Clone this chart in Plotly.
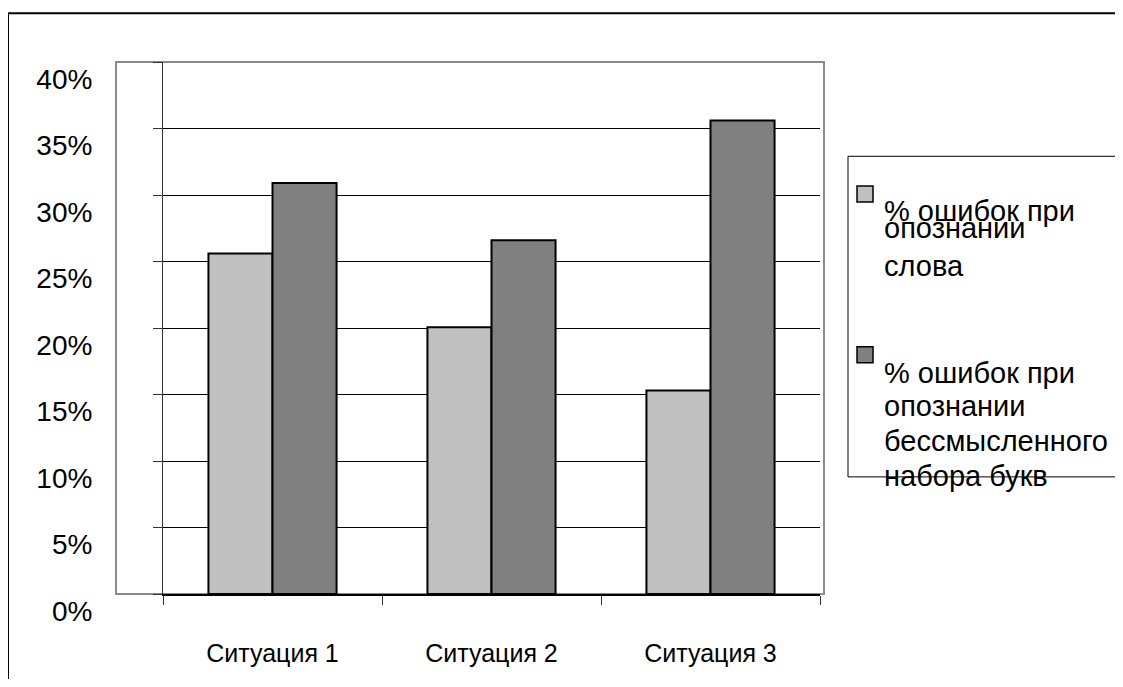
import plotly.graph_objects as go

# ---- data ----
categories = ["Ситуация 1", "Ситуация 2", "Ситуация 3"]
series_names = ["% ошибок при опознании слова",
                "% ошибок при опознании бессмысленного набора букв"]
legend_lines = [["% ошибок при", "опознании", "слова"],
                ["% ошибок при", "опознании", "бессмысленного", "набора букв"]]
word_errors = [0.256, 0.2005, 0.153]
nonsense_errors = [0.309, 0.266, 0.356]
series_colors = ["#C0C0C0", "#808080"]

OFF = 8                      # page body margin
W, H = 1107, 671
# plot area in reference (screen) pixels
RL, RR, RT, RB = 163, 820, 62, 598
L, R, T, B = RL - OFF, RR - OFF, RT - OFF, RB - OFF


def px(x):
    return (x - RL) / (RR - RL)


def py(y):
    return (RB - y) / (RB - RT)


FONT = "Liberation Sans, Arial, sans-serif"

fig = go.Figure()
for name, vals, col in zip(series_names, [word_errors, nonsense_errors], series_colors):
    fig.add_trace(go.Bar(x=categories, y=vals, name=name,
                         marker=dict(color=col, line=dict(color="black", width=2)),
                         showlegend=False))

shapes = []
# outer chart border
shapes.append(dict(type="rect", xref="paper", yref="paper",
                   x0=px(8), x1=px(1160), y0=py(13), y1=py(720),
                   line=dict(color="black", width=2), layer="below"))
# plot-area gray border
shapes.append(dict(type="rect", xref="paper", yref="paper",
                   x0=px(116), x1=px(824), y0=py(598), y1=py(62),
                   line=dict(color="#8a8a8a", width=2), layer="below"))
# legend box
shapes.append(dict(type="rect", xref="paper", yref="paper",
                   x0=px(848), x1=px(1160), y0=py(480), y1=py(157),
                   line=dict(color="black", width=1), layer="above"))
# legend markers
marker_tops = [187, 349]
for top, col in zip(marker_tops, series_colors):
    shapes.append(dict(type="rect", xref="paper", yref="paper",
                       x0=px(857), x1=px(873), y0=py(top + 16), y1=py(top),
                       fillcolor=col, line=dict(color="black", width=1.5), layer="above"))

annotations = []
line_centers = [[212, 229, 268], [375, 409, 444, 479]]
for lines, centers in zip(legend_lines, line_centers):
    for txt, cy in zip(lines, centers):
        annotations.append(dict(xref="paper", yref="paper", x=px(882), y=py(cy),
                                text=txt, showarrow=False, xanchor="left", yanchor="middle",
                                font=dict(family=FONT, size=29, color="black")))

fig.update_layout(
    width=W, height=H,
    margin=dict(l=L, r=W - R, t=T, b=H - B, pad=0),
    paper_bgcolor="white", plot_bgcolor="white",
    barmode="group", bargap=0.415, bargroupgap=0,
    shapes=shapes, annotations=annotations,
    font=dict(family=FONT, size=24, color="black"),
)
fig.update_xaxes(
    type="category", tickson="boundaries", ticks="outside", ticklen=9,
    tickcolor="#333333", tickwidth=1,
    showline=True, linecolor="black", linewidth=1.5,
    showgrid=False, ticklabelstandoff=36,
    tickfont=dict(family=FONT, size=25, color="black"),
)
fig.update_yaxes(
    range=[0, 0.40], dtick=0.05, tickformat=".0%",
    ticks="outside", ticklen=9, tickcolor="#333333", tickwidth=1,
    showline=True, linecolor="#333333", linewidth=1,
    showgrid=True, gridcolor="black", gridwidth=1, zeroline=False,
    ticklabelstandoff=55, ticklabelshift=17,
    tickfont=dict(family=FONT, size=28, color="black"),
)

fig.write_html("out.html")
